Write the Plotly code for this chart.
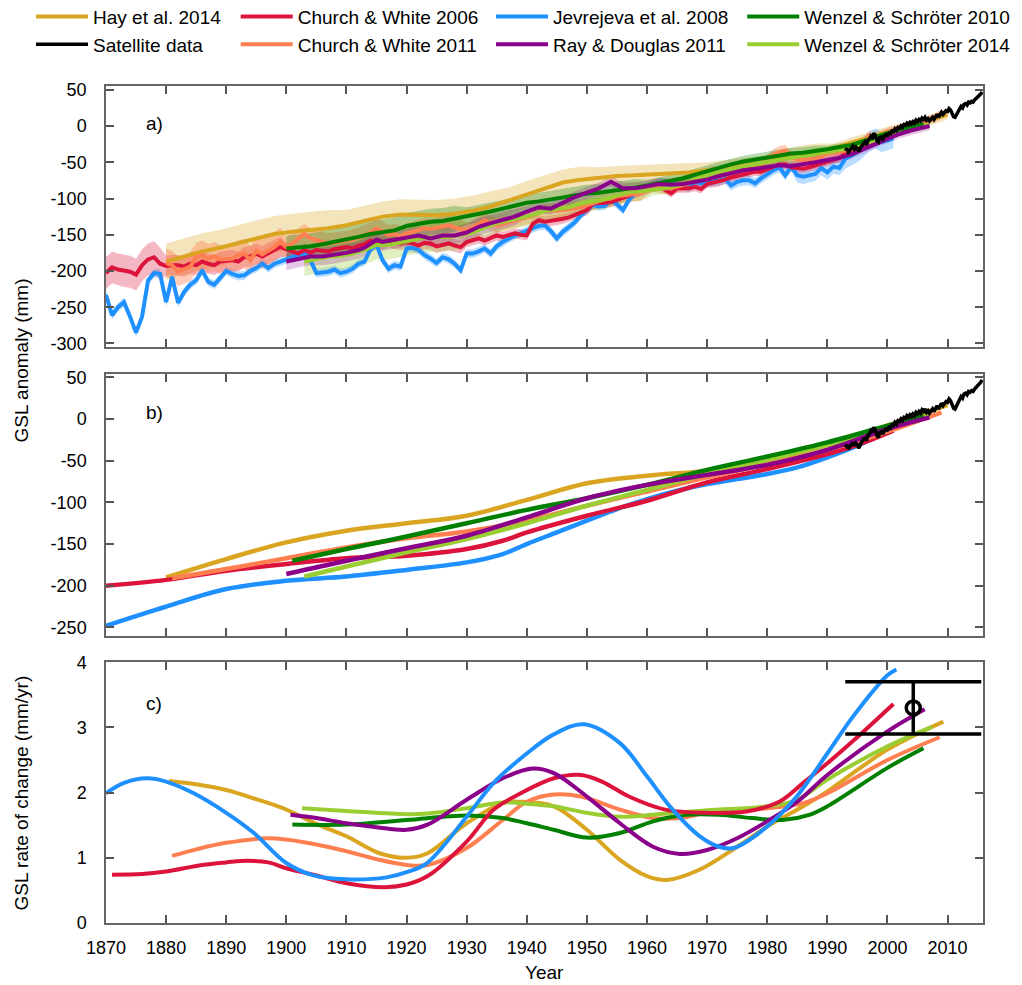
import numpy as np
import plotly.graph_objects as go

FONT = "Liberation Sans, Arial, Helvetica, sans-serif"

# ---------------- colours ----------------
C_HAY, C_CW06, C_JEV, C_W10 = "#DAA520", "#DC143C", "#1E90FF", "#008000"
C_SAT, C_CW11, C_RD, C_W14 = "#000000", "#FF7F50", "#8B008B", "#9ACD32"
B_HAY, B_CW06, B_JEV, B_W10 = ("rgba(218,165,32,0.30)", "rgba(220,20,60,0.30)",
                               "rgba(30,144,255,0.30)", "rgba(0,128,0,0.28)")
B_CW11, B_RD, B_W14 = "rgba(255,127,80,0.40)", "rgba(139,0,139,0.22)", "rgba(154,205,50,0.30)"

# ---------------- panel a: annual series ----------------
jev_years = list(range(1870, 2002))
jev_vals = [-233, -261, -250, -243, -263, -285, -263, -213, -203, -204,
            -243, -208, -244, -229, -219, -213, -199, -215, -219, -210,
            -200, -204, -207, -206, -200, -196, -190, -196, -190, -187,
            -184, -180, -178, -175, -185, -203, -202, -201, -198, -203,
            -201, -197, -190, -187, -170, -164, -185, -197, -192, -194,
            -169, -168, -171, -178, -183, -189, -181, -184, -190, -199,
            -176, -176, -173, -169, -176, -166, -160, -155, -151, -148,
            -144, -141, -138, -137, -145, -155, -146, -139, -133, -123,
            -116, -109, -111, -110, -102, -108, -116, -102, -93, -90,
            -86, -82, -79, -79, -80, -81, -82, -84, -77, -79,
            -78, -77, -75, -73, -82, -77, -75, -75, -79, -72,
            -66, -61, -57, -68, -56, -68, -70, -68, -66, -58,
            -64, -56, -58, -45, -40, -36, -29, -21, -17, -22,
            -20, -17]

cw06_years = list(range(1870, 2002))
cw06_vals = [-203, -195, -198, -200, -201, -205, -192, -184, -181, -190,
             -193, -192, -192, -194, -190, -192, -187, -190, -192, -187,
             -186, -185, -187, -181, -180, -176, -180, -175, -171, -167,
             -170, -173, -176, -171, -175, -171, -172, -173, -170, -168,
             -167, -169, -165, -163, -158, -160, -162, -158, -161, -162,
             -160, -162, -165, -161, -162, -166, -164, -162, -165, -167,
             -160, -157, -155, -158, -154, -151, -153, -150, -148, -150,
             -151, -135, -130, -132, -131, -130, -128, -126, -123, -119,
             -116, -107, -107, -106, -105, -102, -100, -97, -94, -91,
             -88, -85, -82, -88, -93, -86, -86, -86, -84, -87,
             -80, -78, -77, -74, -71, -69, -66, -64, -63, -63,
             -60, -57, -53, -53, -57, -58, -59, -57, -55, -52,
             -49, -47, -44, -38, -35, -31, -27, -22, -18, -15,
             -12, -9]

cw11_years = list(range(1880, 2010))
cw11_vals = [-189, -192, -201, -198, -194, -181, -178, -183, -180, -184,
             -184, -183, -178, -176, -185, -172, -177, -172, -167, -160,
             -167, -162, -155, -149, -155, -158, -160, -162, -161, -160,
             -158, -157, -154, -151, -147, -141, -145, -151, -149, -152,
             -148, -146, -144, -141, -142, -140, -139, -137, -140, -142,
             -144, -140, -135, -130, -134, -137, -135, -132, -130, -128,
             -126, -124, -120, -117, -116, -117, -116, -114, -113, -112,
             -109, -106, -103, -101, -100, -97, -96, -95, -94, -93,
             -88, -83, -84, -86, -86, -84, -82, -79, -75, -70,
             -66, -63, -64, -66, -63, -60, -58, -57, -56, -54,
             -48, -40, -36, -34, -43, -46, -47, -46, -45, -42,
             -38, -37, -36, -34, -32, -30, -22, -13, -17, -12,
             -8, -6, -3, -1, 2, 4, 5, 9, 12, 17]

hay_years = [1880, 1883, 1886, 1889, 1892, 1895, 1898, 1901, 1904, 1907, 1910, 1913, 1916,
             1919, 1922, 1925, 1928, 1931, 1934, 1937, 1940, 1943, 1946, 1949, 1952, 1955,
             1958, 1961, 1964, 1967, 1970, 1973, 1976, 1979, 1982, 1985, 1988, 1991, 1994,
             1997, 2000, 2003, 2006, 2009, 2010]
hay_vals = [-187, -180, -173, -168, -162, -155, -149, -146, -144, -141, -137, -131, -125,
            -122, -122, -123, -121, -117, -111, -103, -94, -86, -78, -74, -71, -69,
            -68, -67, -66, -64, -61, -58, -55, -52, -45, -39, -35, -31, -23,
            -15, -8, -2, 5, 13, 16]

w10_years = list(range(1900, 2007, 2))
w10_vals = [-169, -168, -166, -163, -160, -157, -153, -149, -147, -144,
            -138, -135, -132, -131, -128, -124, -121, -118, -114, -110,
            -106, -104, -101, -98, -95, -93, -92, -90, -88, -85,
            -82, -79, -76, -72, -67, -62, -58, -53, -49, -46,
            -43, -40, -38, -37, -35, -32, -29, -26, -21, -15,
            -10, -5, -1, 3]

rd_years = [1900, 1902, 1904, 1906, 1908, 1910, 1912, 1913, 1915, 1916, 1918, 1919, 1920,
            1922, 1924, 1926, 1928, 1930, 1932, 1934, 1936, 1938, 1940, 1942, 1944, 1946,
            1948, 1950, 1952, 1954, 1955, 1956, 1958, 1960, 1962, 1964, 1966, 1968, 1970,
            1972, 1974, 1976, 1978, 1980, 1982, 1984, 1986, 1988, 1990, 1992, 1994, 1996,
            1998, 2000, 2002, 2004, 2006, 2007]
rd_vals = [-187, -183, -180, -180, -178, -175, -171, -168, -157, -160, -157, -155, -154,
           -151, -155, -151, -151, -147, -139, -134, -130, -125, -118, -112, -114, -106,
           -98, -92, -86, -77, -82, -86, -86, -83, -80, -81, -80, -77, -74,
           -69, -65, -61, -59, -57, -54, -55, -53, -50, -47, -44, -39, -32,
           -25, -17, -11, -6, -2, 0]

w14_years = list(range(1903, 2008, 2))
w14_vals = [-187, -184, -180, -179, -176, -171, -164, -164, -161, -157,
            -154, -153, -153, -150, -147, -140, -134, -130, -127, -123,
            -117, -114, -112, -107, -104, -101, -96, -91, -90, -88,
            -86, -82, -77, -70, -65, -61, -58, -54, -51, -48,
            -45, -42, -40, -37, -35, -32, -28, -22, -16, -11,
            -6, -2, 2]

sat_t = [1993 + 0.25 * i for i in range(92)]
sat_vals = [-34, -31, -36, -33, -30, -28, -32, -29, -31, -35, -30, -27,
            -25, -22, -26, -20, -18, -14, -16, -10, -13, -20, -22, -16,
            -15, -18, -14, -12, -13, -10, -11, -7, -8, -4, -6, -2,
            -3, 0, -2, 2, 1, 4, 2, 5, 3, 6, 4, 8,
            6, 9, 7, 11, 9, 12, 8, 10, 7, 10, 12, 9,
            13, 16, 12, 17, 19, 16, 18, 21, 20, 24, 22, 17,
            13, 12, 16, 20, 24, 27, 25, 30, 31, 29, 33, 32,
            34, 33, 36, 38, 39, 42, 44, 47]

# uncertainty (1-sigma style half widths, step tables: start year -> half width)
sig_tables = {
    "jev": ([1870, 1960, 1985, 1993], [6, 7, 10, 14]),
    "cw06": ([1870, 1880, 1900, 1930, 1960], [22, 14, 9, 7, 6]),
    "cw11": ([1880, 1900, 1930, 1960, 1990], [20, 14, 10, 8, 6]),
    "hay": ([1880, 1910, 1935, 1950, 1970, 1990], [25, 21, 18, 14, 11, 7]),
    "w10": ([1900, 1930, 1960, 1990], [18, 12, 8, 5]),
    "rd": ([1900, 1940, 1970], [12, 8, 6]),
    "w14": ([1903, 1930, 1960, 1990], [20, 13, 8, 5]),
}

# ---------------- panel b: smoothed series ----------------
jev_s_years = [1870, 1880, 1890, 1900, 1910, 1920, 1930, 1936, 1940, 1945, 1950, 1955, 1960,
               1965, 1970, 1975, 1980, 1985, 1990, 1995, 2001]
jev_s_vals = [-248, -225, -204, -194, -189, -181, -172, -162, -150, -136, -122, -108, -96,
              -86, -78, -72, -66, -58, -46, -32, -12]
cw06_s_years = [1870, 1880, 1890, 1900, 1910, 1920, 1930, 1936, 1940, 1950, 1960, 1970, 1980,
                1990, 1995, 2001]
cw06_s_vals = [-200, -193, -182, -174, -167, -164, -156, -146, -136, -116, -98, -76, -60,
               -42, -31, -14]
cw11_s_years = [1881, 1890, 1900, 1910, 1920, 1930, 1940, 1950, 1960, 1970, 1980, 1990, 2000, 2009]
cw11_s_vals = [-191, -180, -167, -154, -143, -135, -122, -104, -87, -70, -54, -37, -15, 8]
hay_s_years = [1880, 1890, 1900, 1910, 1920, 1930, 1940, 1950, 1960, 1970, 1980, 1990, 2000, 2010]
hay_s_vals = [-190, -168, -148, -134, -125, -116, -97, -77, -68, -62, -50, -31, -8, 17]
w10_s_years = [1901, 1910, 1920, 1930, 1940, 1950, 1960, 1970, 1980, 1990, 2000, 2006]
w10_s_vals = [-170, -156, -141, -125, -109, -95, -79, -61, -45, -28, -8, 4]
rd_s_years = [1900, 1910, 1920, 1930, 1940, 1950, 1960, 1970, 1980, 1990, 2000, 2007]
rd_s_vals = [-186, -170, -155, -140, -118, -95, -79, -67, -55, -37, -12, 2]
w14_s_years = [1903, 1910, 1920, 1930, 1940, 1950, 1960, 1970, 1980, 1990, 2000, 2007]
w14_s_vals = [-189, -177, -160, -144, -125, -104, -85, -66, -49, -31, -10, 4]

# ---------------- panel c: rates (mm/yr) ----------------
jev_r_years = [1870, 1873, 1876.8, 1880, 1884.6, 1890, 1894.6, 1900, 1904.5, 1910, 1916.7, 1920,
               1923.4, 1930, 1934.5, 1940, 1944.4, 1949.5, 1955.5, 1960, 1963.8, 1968.8, 1972,
               1974.4, 1980, 1984.9, 1990, 1994.3, 2000, 2001.5]
jev_r_vals = [1.99, 2.15, 2.22, 2.17, 1.99, 1.69, 1.38, 0.92, 0.73, 0.67, 0.70, 0.78,
              0.92, 1.63, 2.15, 2.60, 2.89, 3.05, 2.76, 2.25, 1.79, 1.33, 1.17,
              1.15, 1.48, 1.94, 2.60, 3.17, 3.80, 3.89]
cw06_r_years = [1871, 1876, 1880, 1886, 1890, 1893.5, 1897, 1900, 1904.5, 1910, 1916.5, 1920,
                1923.5, 1930, 1934.5, 1939, 1944.5, 1949, 1952.5, 1957, 1963, 1970, 1976.5,
                1982, 1986, 1990, 1994.5, 2001]
cw06_r_vals = [0.74, 0.75, 0.79, 0.89, 0.93, 0.955, 0.93, 0.84, 0.74, 0.61, 0.55, 0.59,
               0.72, 1.25, 1.74, 1.99, 2.22, 2.27, 2.17, 1.94, 1.74, 1.69, 1.71,
               1.86, 2.15, 2.45, 2.81, 3.36]
hay_r_years = [1880.5, 1885, 1890, 1895, 1900, 1905, 1910, 1915.5, 1920, 1923.5, 1930, 1936,
               1939, 1944.5, 1950, 1955.5, 1960, 1963.3, 1968.8, 1975, 1980, 1986, 1990, 2000,
               2009.3]
hay_r_vals = [2.18, 2.13, 2.04, 1.90, 1.74, 1.52, 1.33, 1.07, 1.00, 1.07, 1.53, 1.84,
              1.86, 1.79, 1.43, 0.97, 0.72, 0.66, 0.82, 1.17, 1.48, 1.79, 2.02, 2.66,
              3.09]
cw11_r_years = [1881, 1885, 1890, 1896.8, 1900, 1906.8, 1910, 1915, 1920, 1923.5, 1930, 1936,
                1940, 1944.5, 1949, 1955.5, 1961, 1965.5, 1970, 1980, 1986, 1990, 2000, 2008.7]
cw11_r_vals = [1.03, 1.13, 1.23, 1.30, 1.28, 1.17, 1.10, 0.98, 0.89, 0.89, 1.15, 1.58,
               1.86, 1.97, 1.94, 1.74, 1.61, 1.61, 1.69, 1.76, 1.84, 1.99, 2.50, 2.85]
rd_r_years = [1900.7, 1905, 1910, 1915, 1920, 1923.5, 1930, 1936, 1941, 1944.5, 1950, 1955.5,
              1961, 1965.5, 1970, 1975, 1980, 1985, 1990, 2000, 2006.2]
rd_r_vals = [1.66, 1.61, 1.53, 1.47, 1.43, 1.51, 1.89, 2.22, 2.37, 2.30, 1.94, 1.53,
             1.17, 1.06, 1.12, 1.30, 1.56, 1.86, 2.27, 2.94, 3.28]
w10_r_years = [1901, 1910, 1920, 1930, 1936, 1940, 1944.5, 1950, 1955.5, 1961, 1966.5, 1972,
               1977.5, 1982.5, 1987, 1990, 2000, 2006]
w10_r_vals = [1.51, 1.51, 1.58, 1.65, 1.61, 1.53, 1.43, 1.31, 1.38, 1.56, 1.66, 1.66,
              1.61, 1.58, 1.66, 1.79, 2.38, 2.68]
w14_r_years = [1902.6, 1910, 1920, 1923.5, 1930, 1936, 1940, 1944.5, 1950, 1955.5, 1961, 1970,
               1980, 1985, 1990, 2000, 2007.4]
w14_r_vals = [1.76, 1.72, 1.67, 1.68, 1.76, 1.85, 1.83, 1.79, 1.69, 1.63, 1.66, 1.73,
              1.79, 1.89, 2.20, 2.71, 3.01]
sat_rate_year = [2004.3]
sat_rate = [3.3]
sat_rate_err = [0.4]

# ---------------- tick definitions ----------------
x_ticks = list(range(1870, 2011, 10))
ya_ticks = [50, 0, -50, -100, -150, -200, -250, -300]
yb_ticks = [50, 0, -50, -100, -150, -200, -250]
yc_ticks = [0, 1, 2, 3, 4]


def sigma_for(years, key):
    ty, ts = sig_tables[key]
    idx = np.searchsorted(np.array(ty), np.array(years), side="right") - 1
    return np.array(ts)[np.clip(idx, 0, None)]


fig = go.Figure()

series_a = [
    # key, name, years, vals, colour, band colour, legend, rank
    ("hay", "Hay et al. 2014", hay_years, hay_vals, C_HAY, B_HAY, "legend", 1),
    ("jev", "Jevrejeva et al. 2008", jev_years, jev_vals, C_JEV, B_JEV, "legend3", 1),
    ("cw06", "Church & White 2006", cw06_years, cw06_vals, C_CW06, B_CW06, "legend2", 1),
    ("cw11", "Church & White 2011", cw11_years, cw11_vals, C_CW11, B_CW11, "legend2", 2),
    ("w14", "Wenzel & Schröter 2014", w14_years, w14_vals, C_W14, B_W14, "legend4", 2),
    ("w10", "Wenzel & Schröter 2010", w10_years, w10_vals, C_W10, B_W10, "legend4", 1),
    ("rd", "Ray & Douglas 2011", rd_years, rd_vals, C_RD, B_RD, "legend3", 2),
]

# bands (panel a)
for key, name, yrs, vals, col, bcol, leg, rank in series_a:
    s = sigma_for(yrs, key)
    v = np.array(vals, dtype=float)
    up, lo = v + s, v - s
    fig.add_trace(go.Scatter(x=list(yrs) + list(yrs)[::-1], y=list(up) + list(lo)[::-1],
                             fill="toself", fillcolor=bcol, line=dict(width=0),
                             mode="lines", showlegend=False, hoverinfo="skip",
                             xaxis="x", yaxis="y"))

# lines (panel a)
for key, name, yrs, vals, col, bcol, leg, rank in series_a:
    fig.add_trace(go.Scatter(x=yrs, y=vals, mode="lines", name=name,
                             line=dict(color=col, width=4), legend=leg, legendrank=rank,
                             xaxis="x", yaxis="y"))
fig.add_trace(go.Scatter(x=sat_t, y=sat_vals, mode="lines", name="Satellite data",
                         line=dict(color=C_SAT, width=3.5), legend="legend", legendrank=2,
                         xaxis="x", yaxis="y"))

# panel b
series_b = [
    (hay_s_years, hay_s_vals, C_HAY), (jev_s_years, jev_s_vals, C_JEV),
    (cw06_s_years, cw06_s_vals, C_CW06), (cw11_s_years, cw11_s_vals, C_CW11),
    (w14_s_years, w14_s_vals, C_W14), (w10_s_years, w10_s_vals, C_W10),
    (rd_s_years, rd_s_vals, C_RD),
]
for yrs, vals, col in series_b:
    fig.add_trace(go.Scatter(x=yrs, y=vals, mode="lines", line=dict(color=col, width=4.5, shape="spline"),
                             showlegend=False, xaxis="x2", yaxis="y2"))
fig.add_trace(go.Scatter(x=sat_t, y=sat_vals, mode="lines", line=dict(color=C_SAT, width=3.5),
                         showlegend=False, xaxis="x2", yaxis="y2"))

# panel c
series_c = [
    (hay_r_years, hay_r_vals, C_HAY), (cw11_r_years, cw11_r_vals, C_CW11),
    (w10_r_years, w10_r_vals, C_W10), (w14_r_years, w14_r_vals, C_W14),
    (cw06_r_years, cw06_r_vals, C_CW06), (rd_r_years, rd_r_vals, C_RD),
    (jev_r_years, jev_r_vals, C_JEV),
]
for yrs, vals, col in series_c:
    fig.add_trace(go.Scatter(x=yrs, y=vals, mode="lines", line=dict(color=col, width=4, shape="spline"),
                             showlegend=False, xaxis="x3", yaxis="y3"))
fig.add_trace(go.Scatter(x=sat_rate_year, y=sat_rate, mode="markers",
                         marker=dict(symbol="circle-open", size=14, color="black",
                                     line=dict(width=3.5, color="black")),
                         error_y=dict(type="data", array=sat_rate_err, thickness=3.5, width=68,
                                      color="black"),
                         showlegend=False, xaxis="x3", yaxis="y3"))

tickfont = dict(family=FONT, size=18, color="black")
axis_common = dict(showline=True, linecolor="#666666", linewidth=1.5, mirror="allticks",
                   ticks="inside", ticklen=8, tickwidth=1.5, tickcolor="#555555",
                   showgrid=False, zeroline=False, tickfont=tickfont)
xr = [1870, 2015.9]


def xaxis(anchor, labels):
    d = dict(axis_common)
    d.update(domain=[0, 1], anchor=anchor, range=xr, tickvals=x_ticks,
             ticktext=[str(t) for t in x_ticks], showticklabels=labels, ticklabelstandoff=8)
    return d


def yaxis(anchor, dom, rng, ticks):
    d = dict(axis_common)
    d.update(domain=dom, anchor=anchor, range=rng, tickvals=ticks,
             ticktext=[str(t) for t in ticks], ticklabelstandoff=14)
    return d


leg_common = dict(font=dict(family=FONT, size=19, color="black"), itemwidth=52,
                  bgcolor="rgba(0,0,0,0)", borderwidth=0, orientation="v",
                  xanchor="left", yanchor="top", tracegroupgap=0, traceorder="normal",
                  xref="paper", yref="paper")
leg_y = 1.1055

fig.update_layout(
    width=1022, height=985,
    margin=dict(l=106, r=39, t=86, b=62, autoexpand=False),
    paper_bgcolor="white", plot_bgcolor="white",
    font=dict(family=FONT, size=18, color="black"),
    xaxis=xaxis("y", False),
    yaxis=yaxis("x", [0.6885, 1.0], [-304.5, 55.2], ya_ticks),
    xaxis2=xaxis("y2", False),
    yaxis2=yaxis("x2", [0.3432, 0.6559], [-260, 54], yb_ticks),
    xaxis3=xaxis("y3", True),
    yaxis3=yaxis("x3", [0.0, 0.3115], [0, 4], yc_ticks),
    legend=dict(leg_common, x=-0.0855, y=leg_y),
    legend2=dict(leg_common, x=0.1479, y=leg_y),
    legend3=dict(leg_common, x=0.4390, y=leg_y),
    legend4=dict(leg_common, x=0.7255, y=leg_y),
    showlegend=True,
    annotations=[
        dict(text="a)", x=1876.3, y=3.3, xref="x", yref="y", xanchor="left", yanchor="middle",
             showarrow=False, font=dict(family=FONT, size=19, color="black")),
        dict(text="b)", x=1876.3, y=7.7, xref="x2", yref="y2", xanchor="left", yanchor="middle",
             showarrow=False, font=dict(family=FONT, size=19, color="black")),
        dict(text="c)", x=1876.3, y=3.37, xref="x3", yref="y3", xanchor="left", yanchor="middle",
             showarrow=False, font=dict(family=FONT, size=19, color="black")),
        dict(text="GSL anomaly (mm)", x=-0.0958, y=0.672, xref="paper", yref="paper",
             xanchor="center", yanchor="middle", textangle=-90, showarrow=False,
             font=dict(family=FONT, size=19, color="black")),
        dict(text="GSL rate of change (mm/yr)", x=-0.0958, y=0.1559, xref="paper", yref="paper",
             xanchor="center", yanchor="middle", textangle=-90, showarrow=False,
             font=dict(family=FONT, size=19, color="black")),
        dict(text="Year", x=0.5, y=-0.0597, xref="paper", yref="paper",
             xanchor="center", yanchor="middle", showarrow=False,
             font=dict(family=FONT, size=19, color="black")),
    ],
)

fig.write_html("out.html")
